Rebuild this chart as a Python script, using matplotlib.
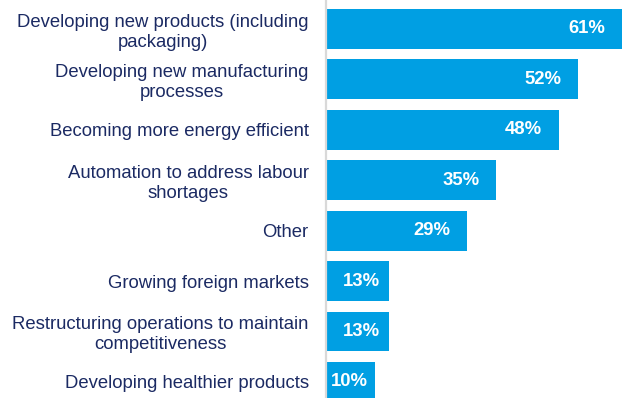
import matplotlib
matplotlib.use("Agg")
import matplotlib.pyplot as plt

categories = [
    "Developing new products (including\npackaging)",
    "Developing new manufacturing\nprocesses",
    "Becoming more energy efficient",
    "Automation to address labour\nshortages",
    "Other",
    "Growing foreign markets",
    "Restructuring operations to maintain\ncompetitiveness",
    "Developing healthier products",
]
values = [61, 52, 48, 35, 29, 13, 13, 10]

BAR = "#009FE3"
TEXT = "#1B2A63"

plt.rcParams["font.family"] = ["Liberation Sans", "DejaVu Sans"]

fig = plt.figure(figsize=(6.22, 3.98), dpi=100)
ax = fig.add_axes([326 / 622, 0, 296 / 622, 1])

pos = list(range(len(categories)))
ax.barh(pos, values, height=0.79, color=BAR, zorder=2)

ax.set_xlim(0, 61)
ax.set_ylim(7.32, -0.575)

ax.set_yticks(pos)
ax.set_yticklabels(categories, fontsize=13.3, color=TEXT)
for lbl in ax.get_yticklabels():
    lbl.set_multialignment("center")
    lbl.set_linespacing(1.2)
ax.tick_params(axis="y", length=0, pad=12.5)
ax.set_xticks([])

for s in ["top", "right", "bottom"]:
    ax.spines[s].set_visible(False)
ax.spines["left"].set_color("#D9D9D9")
ax.spines["left"].set_linewidth(1.6)
ax.spines["left"].set_zorder(3)

for y, v in zip(pos, values):
    # narrow bars get a smaller inner margin so the label still fits
    pad = 12 if v >= 20 else 0.5 * v
    ax.annotate(f"{v}%", (v, y), xytext=(-pad, 0), textcoords="offset points",
                ha="right", va="center", color="white", fontsize=13.3,
                fontweight="bold", zorder=4)

fig.savefig("out.png", dpi=100)
